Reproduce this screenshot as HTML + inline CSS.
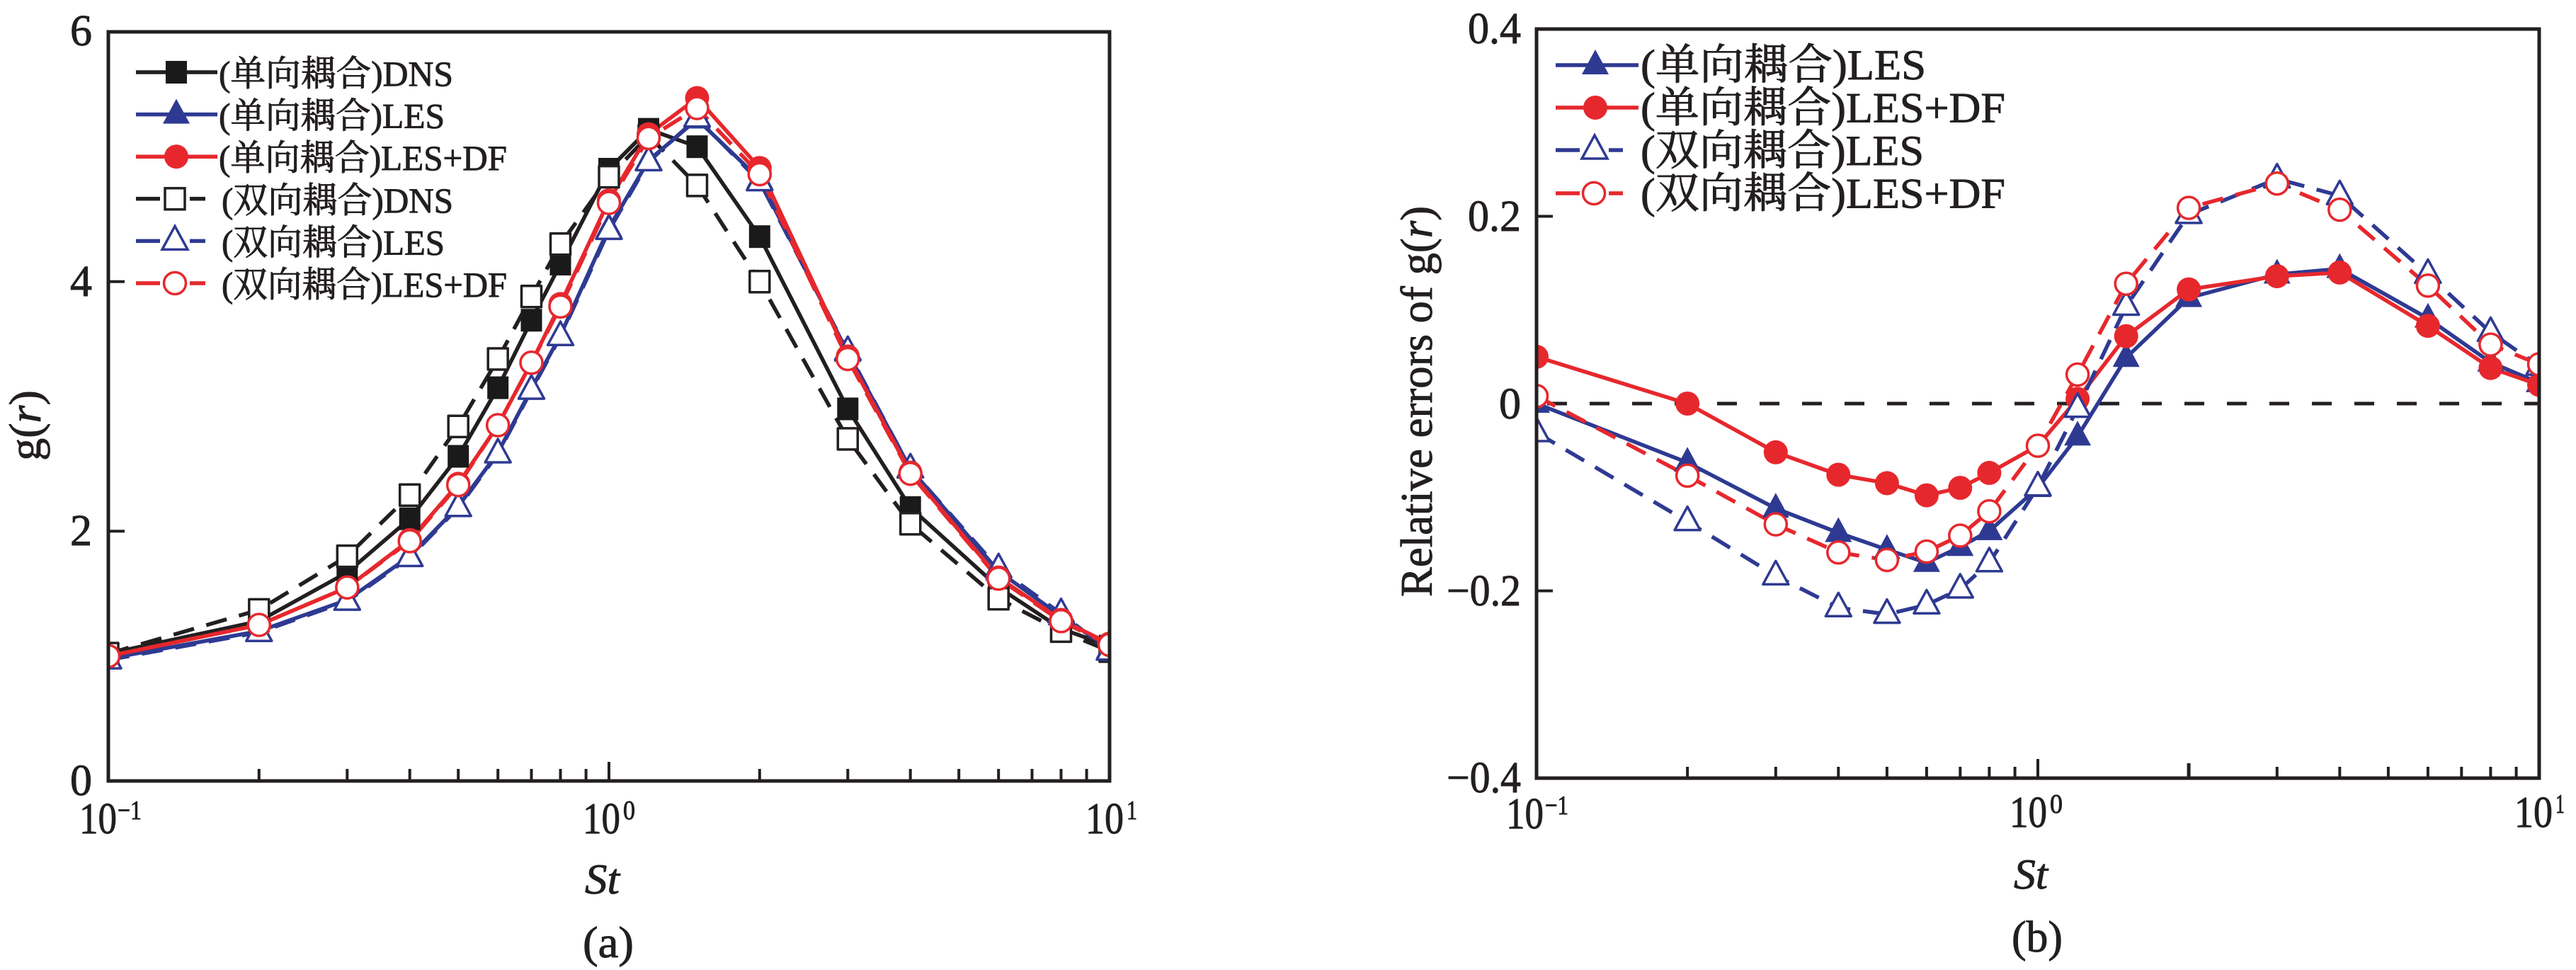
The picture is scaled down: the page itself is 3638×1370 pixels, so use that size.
<!DOCTYPE html>
<html>
<head>
<meta charset="utf-8">
<style>
html,body{margin:0;padding:0;background:#fff;}
svg{display:block;}
text{font-family:"Liberation Serif","Noto Serif CJK SC",serif;fill:#231f20;stroke:#231f20;stroke-width:0.9px;}
</style>
</head>
<body>
<svg width="3638" height="1370" viewBox="0 0 3638 1370" xmlns="http://www.w3.org/2000/svg">
<defs>
  <clipPath id="clipA"><rect x="153" y="45" width="1414" height="1058"/></clipPath>
  <clipPath id="clipB"><rect x="2170" y="41" width="1416" height="1058"/></clipPath>
  <rect id="sqF" x="-15" y="-16" width="30" height="32" fill="#1a1a1a"/>
  <rect id="sqH" x="-14" y="-15" width="28" height="30" fill="#fff" stroke="#231f20" stroke-width="3.5"/>
  <polygon id="triF" points="0,-22 19,13 -19,13" fill="#2e3a92"/>
  <polygon id="triH" points="0,-21 18,12 -18,12" fill="#fff" stroke="#2e3a92" stroke-width="3.5"/>
  <circle id="cirF" r="17" fill="#e6282d"/>
  <circle id="cirH" r="15.5" fill="#fff" stroke="#e6282d" stroke-width="3.5"/>
</defs>
<rect width="3638" height="1370" fill="#fff"/>

<!-- ================= PANEL A ================= -->
<g clip-path="url(#clipA)" fill="none" stroke-width="5.5" stroke-linejoin="round">
  <polyline stroke="#231f20" points="153,923.1 365.8,877.3 490.3,808.5 578.7,732.7 647.2,644.5 703.2,547.6 750.5,452.3 791.5,373.0 860,239.0 916,182.6 984.5,207.2 1072.8,334.2 1197.3,577.5 1285.7,716.8 1410.2,829.7 1498.5,887.9 1567,912.6"/>
  <polyline stroke="#231f20" stroke-dasharray="30 18" points="153,923.1 365.8,861.4 490.3,785.6 578.7,699.2 647.2,602.2 703.2,507.0 750.5,418.8 791.5,344.8 860,249.6 916,191.4 984.5,261.9 1072.8,397.7 1197.3,619.9 1285.7,739.8 1410.2,845.6 1498.5,891.4 1567,919.6"/>
  <polyline stroke="#2e3a92" points="153,930.2 365.8,891.4 490.3,847.3 578.7,785.6 647.2,715.1 703.2,639.3 750.5,549.3 791.5,473.5 860,321.9 916,226.6 984.5,168.5 1072.8,253.1 1197.3,498.2 1285.7,662.2 1410.2,806.8 1498.5,870.2 1567,916.1"/>
  <polyline stroke="#2e3a92" stroke-dasharray="30 18" points="153,932.0 365.8,893.2 490.3,849.1 578.7,787.4 647.2,716.8 703.2,641.0 750.5,551.1 791.5,475.3 860,325.4 916,228.4 984.5,166.7 1072.8,256.6 1197.3,496.4 1285.7,662.2 1410.2,803.2 1498.5,866.7 1567,919.6"/>
  <polyline stroke="#e6282d" points="153,926.7 365.8,882.6 490.3,829.7 578.7,762.7 647.2,683.3 703.2,600.5 750.5,512.3 791.5,429.4 860,283.1 916,189.6 984.5,138.5 1072.8,237.2 1197.3,503.5 1285.7,667.5 1410.2,815.6 1498.5,875.5 1567,909.0"/>
  <polyline stroke="#e6282d" stroke-dasharray="30 18" points="153,926.7 365.8,882.6 490.3,829.7 578.7,764.4 647.2,685.1 703.2,600.5 750.5,512.3 791.5,432.9 860,286.6 916,194.9 984.5,152.6 1072.8,246.0 1197.3,507.0 1285.7,669.2 1410.2,817.3 1498.5,877.3 1567,910.8"/>

  <use href="#sqF" x="153" y="923.1"/><use href="#sqF" x="365.8" y="877.3"/><use href="#sqF" x="490.3" y="808.5"/><use href="#sqF" x="578.7" y="732.7"/><use href="#sqF" x="647.2" y="644.5"/><use href="#sqF" x="703.2" y="547.6"/><use href="#sqF" x="750.5" y="452.3"/><use href="#sqF" x="791.5" y="373.0"/><use href="#sqF" x="860" y="239.0"/><use href="#sqF" x="916" y="182.6"/><use href="#sqF" x="984.5" y="207.2"/><use href="#sqF" x="1072.8" y="334.2"/><use href="#sqF" x="1197.3" y="577.5"/><use href="#sqF" x="1285.7" y="716.8"/><use href="#sqF" x="1410.2" y="829.7"/><use href="#sqF" x="1498.5" y="887.9"/><use href="#sqF" x="1567" y="912.6"/>
  <use href="#sqH" x="153" y="923.1"/><use href="#sqH" x="365.8" y="861.4"/><use href="#sqH" x="490.3" y="785.6"/><use href="#sqH" x="578.7" y="699.2"/><use href="#sqH" x="647.2" y="602.2"/><use href="#sqH" x="703.2" y="507.0"/><use href="#sqH" x="750.5" y="418.8"/><use href="#sqH" x="791.5" y="344.8"/><use href="#sqH" x="860" y="249.6"/><use href="#sqH" x="916" y="191.4"/><use href="#sqH" x="984.5" y="261.9"/><use href="#sqH" x="1072.8" y="397.7"/><use href="#sqH" x="1197.3" y="619.9"/><use href="#sqH" x="1285.7" y="739.8"/><use href="#sqH" x="1410.2" y="845.6"/><use href="#sqH" x="1498.5" y="891.4"/><use href="#sqH" x="1567" y="919.6"/>
  <use href="#triF" x="153" y="930.2"/><use href="#triF" x="365.8" y="891.4"/><use href="#triF" x="490.3" y="847.3"/><use href="#triF" x="578.7" y="785.6"/><use href="#triF" x="647.2" y="715.1"/><use href="#triF" x="703.2" y="639.3"/><use href="#triF" x="750.5" y="549.3"/><use href="#triF" x="791.5" y="473.5"/><use href="#triF" x="860" y="321.9"/><use href="#triF" x="916" y="226.6"/><use href="#triF" x="984.5" y="168.5"/><use href="#triF" x="1072.8" y="253.1"/><use href="#triF" x="1197.3" y="498.2"/><use href="#triF" x="1285.7" y="662.2"/><use href="#triF" x="1410.2" y="806.8"/><use href="#triF" x="1498.5" y="870.2"/><use href="#triF" x="1567" y="916.1"/>
  <use href="#triH" x="153" y="932.0"/><use href="#triH" x="365.8" y="893.2"/><use href="#triH" x="490.3" y="849.1"/><use href="#triH" x="578.7" y="787.4"/><use href="#triH" x="647.2" y="716.8"/><use href="#triH" x="703.2" y="641.0"/><use href="#triH" x="750.5" y="551.1"/><use href="#triH" x="791.5" y="475.3"/><use href="#triH" x="860" y="325.4"/><use href="#triH" x="916" y="228.4"/><use href="#triH" x="984.5" y="166.7"/><use href="#triH" x="1072.8" y="256.6"/><use href="#triH" x="1197.3" y="496.4"/><use href="#triH" x="1285.7" y="662.2"/><use href="#triH" x="1410.2" y="803.2"/><use href="#triH" x="1498.5" y="866.7"/><use href="#triH" x="1567" y="919.6"/>
  <use href="#cirF" x="153" y="926.7"/><use href="#cirF" x="365.8" y="882.6"/><use href="#cirF" x="490.3" y="829.7"/><use href="#cirF" x="578.7" y="762.7"/><use href="#cirF" x="647.2" y="683.3"/><use href="#cirF" x="703.2" y="600.5"/><use href="#cirF" x="750.5" y="512.3"/><use href="#cirF" x="791.5" y="429.4"/><use href="#cirF" x="860" y="283.1"/><use href="#cirF" x="916" y="189.6"/><use href="#cirF" x="984.5" y="138.5"/><use href="#cirF" x="1072.8" y="237.2"/><use href="#cirF" x="1197.3" y="503.5"/><use href="#cirF" x="1285.7" y="667.5"/><use href="#cirF" x="1410.2" y="815.6"/><use href="#cirF" x="1498.5" y="875.5"/><use href="#cirF" x="1567" y="909.0"/>
  <use href="#cirH" x="153" y="926.7"/><use href="#cirH" x="365.8" y="882.6"/><use href="#cirH" x="490.3" y="829.7"/><use href="#cirH" x="578.7" y="764.4"/><use href="#cirH" x="647.2" y="685.1"/><use href="#cirH" x="703.2" y="600.5"/><use href="#cirH" x="750.5" y="512.3"/><use href="#cirH" x="791.5" y="432.9"/><use href="#cirH" x="860" y="286.6"/><use href="#cirH" x="916" y="194.9"/><use href="#cirH" x="984.5" y="152.6"/><use href="#cirH" x="1072.8" y="246.0"/><use href="#cirH" x="1197.3" y="507.0"/><use href="#cirH" x="1285.7" y="669.2"/><use href="#cirH" x="1410.2" y="817.3"/><use href="#cirH" x="1498.5" y="877.3"/><use href="#cirH" x="1567" y="910.8"/>
</g>

<g stroke="#231f20" stroke-width="5" fill="none">
  <rect x="153" y="45" width="1414" height="1058"/>
</g>
<g stroke="#231f20" stroke-width="4">
  <line x1="860" y1="1103" x2="860" y2="1076"/>
  <line x1="365.8" y1="1103" x2="365.8" y2="1086"/>
  <line x1="490.3" y1="1103" x2="490.3" y2="1086"/>
  <line x1="578.7" y1="1103" x2="578.7" y2="1086"/>
  <line x1="647.2" y1="1103" x2="647.2" y2="1086"/>
  <line x1="703.2" y1="1103" x2="703.2" y2="1086"/>
  <line x1="750.5" y1="1103" x2="750.5" y2="1086"/>
  <line x1="791.5" y1="1103" x2="791.5" y2="1086"/>
  <line x1="827.6" y1="1103" x2="827.6" y2="1086"/>
  <line x1="1072.8" y1="1103" x2="1072.8" y2="1086"/>
  <line x1="1197.3" y1="1103" x2="1197.3" y2="1086"/>
  <line x1="1285.7" y1="1103" x2="1285.7" y2="1086"/>
  <line x1="1354.2" y1="1103" x2="1354.2" y2="1086"/>
  <line x1="1410.2" y1="1103" x2="1410.2" y2="1086"/>
  <line x1="1457.5" y1="1103" x2="1457.5" y2="1086"/>
  <line x1="1498.5" y1="1103" x2="1498.5" y2="1086"/>
  <line x1="1534.6" y1="1103" x2="1534.6" y2="1086"/>
  <line x1="153" y1="750.3" x2="176" y2="750.3"/>
  <line x1="153" y1="397.7" x2="176" y2="397.7"/>
</g>

<g font-size="62" text-anchor="end">
  <text x="130" y="1123">0</text>
  <text x="130" y="770">2</text>
  <text x="130" y="418">4</text>
  <text x="130" y="64">6</text>
</g>
<g font-size="62">
  <text x="112" y="1177" textLength="53" lengthAdjust="spacingAndGlyphs">10</text>
  <text x="166" y="1157" font-size="38" textLength="34" lengthAdjust="spacingAndGlyphs">−1</text>
  <text x="823" y="1177" textLength="53" lengthAdjust="spacingAndGlyphs">10</text>
  <text x="880" y="1157" font-size="38" textLength="17" lengthAdjust="spacingAndGlyphs">0</text>
  <text x="1533" y="1177" textLength="54" lengthAdjust="spacingAndGlyphs">10</text>
  <text x="1591" y="1157" font-size="38" textLength="15" lengthAdjust="spacingAndGlyphs">1</text>
</g>
<text x="826" y="1262" font-size="60" font-style="italic" textLength="49" lengthAdjust="spacingAndGlyphs">St</text>
<text x="823" y="1352" font-size="62" textLength="72" lengthAdjust="spacingAndGlyphs">(a)</text>
<text transform="translate(57,601) rotate(-90)" font-size="64" text-anchor="middle">g(<tspan font-style="italic">r</tspan>)</text>

<g stroke-width="5.5" fill="none">
  <line x1="192" y1="102" x2="307" y2="102" stroke="#231f20"/>
  <line x1="192" y1="161.6" x2="307" y2="161.6" stroke="#2e3a92"/>
  <line x1="192" y1="221.2" x2="307" y2="221.2" stroke="#e6282d"/>
  <line x1="192" y1="280.8" x2="226" y2="280.8" stroke="#231f20"/><line x1="268" y1="280.8" x2="290" y2="280.8" stroke="#231f20"/>
  <line x1="192" y1="340.4" x2="226" y2="340.4" stroke="#2e3a92"/><line x1="268" y1="340.4" x2="290" y2="340.4" stroke="#2e3a92"/>
  <line x1="192" y1="400" x2="226" y2="400" stroke="#e6282d"/><line x1="268" y1="400" x2="290" y2="400" stroke="#e6282d"/>
</g>
<use href="#sqF" x="249" y="102"/>
<use href="#triF" x="249" y="161.6"/>
<use href="#cirF" x="249" y="221.2"/>
<use href="#sqH" x="247" y="280.8"/>
<use href="#triH" x="247" y="340.4"/>
<use href="#cirH" x="247" y="400"/>
<g font-size="50">
  <text x="309" y="121" textLength="331" lengthAdjust="spacingAndGlyphs">(单向耦合)DNS</text>
  <text x="309" y="180.6" textLength="319" lengthAdjust="spacingAndGlyphs">(单向耦合)LES</text>
  <text x="309" y="240.2" textLength="407" lengthAdjust="spacingAndGlyphs">(单向耦合)LES+DF</text>
  <text x="313" y="299.8" textLength="327" lengthAdjust="spacingAndGlyphs">(双向耦合)DNS</text>
  <text x="313" y="359.4" textLength="315" lengthAdjust="spacingAndGlyphs">(双向耦合)LES</text>
  <text x="313" y="419" textLength="403" lengthAdjust="spacingAndGlyphs">(双向耦合)LES+DF</text>
</g>

<!-- ================= PANEL B ================= -->
<line x1="2170" y1="570" x2="3586" y2="570" stroke="#231f20" stroke-width="5" stroke-dasharray="28 32" stroke-dashoffset="-15"/>
<g clip-path="url(#clipB)" fill="none" stroke-width="5.5" stroke-linejoin="round">
  <polyline stroke="#2e3a92" points="2170,570 2383.1,653.3 2507.8,718.1 2596.3,752.5 2664.9,776.3 2720.9,794.8 2768.3,772.3 2809.4,749.9 2878,689.0 2934.1,616.3 3002.7,505.2 3091.1,420.6 3215.8,387.5 3304.3,379.6 3428.9,449.7 3517.4,511.8 3586,540.9"/>
  <polyline stroke="#e6282d" points="2170,503.9 2383.1,570 2507.8,638.8 2596.3,670.5 2664.9,682.4 2720.9,699.6 2768.3,689.0 2809.4,667.9 2878,629.5 2934.1,563.4 3002.7,474.8 3091.1,408.7 3215.8,390.1 3304.3,384.9 3428.9,460.2 3517.4,519.7 3586,543.5"/>
  <polyline stroke="#2e3a92" stroke-dasharray="30 18" points="2170,611.0 2383.1,736.6 2507.8,813.3 2596.3,858.3 2664.9,867.6 2720.9,854.3 2768.3,831.9 2809.4,794.8 2878,687.7 2934.1,576.6 3002.7,432.5 3091.1,302.9 3215.8,252.6 3304.3,276.4 3428.9,387.5 3517.4,469.5 3586,517.1"/>
  <polyline stroke="#e6282d" stroke-dasharray="30 18" points="2170,559.4 2383.1,671.8 2507.8,740.6 2596.3,780.3 2664.9,790.9 2720.9,779.0 2768.3,756.5 2809.4,722.1 2878,629.5 2934.1,529.0 3002.7,400.7 3091.1,293.6 3215.8,259.2 3304.3,296.2 3428.9,403.4 3517.4,486.7 3586,514.5"/>

  <use href="#triF" x="2170" y="570"/><use href="#triF" x="2383.1" y="653.3"/><use href="#triF" x="2507.8" y="718.1"/><use href="#triF" x="2596.3" y="752.5"/><use href="#triF" x="2664.9" y="776.3"/><use href="#triF" x="2720.9" y="794.8"/><use href="#triF" x="2768.3" y="772.3"/><use href="#triF" x="2809.4" y="749.9"/><use href="#triF" x="2878" y="689.0"/><use href="#triF" x="2934.1" y="616.3"/><use href="#triF" x="3002.7" y="505.2"/><use href="#triF" x="3091.1" y="420.6"/><use href="#triF" x="3215.8" y="387.5"/><use href="#triF" x="3304.3" y="379.6"/><use href="#triF" x="3428.9" y="449.7"/><use href="#triF" x="3517.4" y="511.8"/><use href="#triF" x="3586" y="540.9"/>
  <use href="#cirF" x="2170" y="503.9"/><use href="#cirF" x="2383.1" y="570"/><use href="#cirF" x="2507.8" y="638.8"/><use href="#cirF" x="2596.3" y="670.5"/><use href="#cirF" x="2664.9" y="682.4"/><use href="#cirF" x="2720.9" y="699.6"/><use href="#cirF" x="2768.3" y="689.0"/><use href="#cirF" x="2809.4" y="667.9"/><use href="#cirF" x="2878" y="629.5"/><use href="#cirF" x="2934.1" y="563.4"/><use href="#cirF" x="3002.7" y="474.8"/><use href="#cirF" x="3091.1" y="408.7"/><use href="#cirF" x="3215.8" y="390.1"/><use href="#cirF" x="3304.3" y="384.9"/><use href="#cirF" x="3428.9" y="460.2"/><use href="#cirF" x="3517.4" y="519.7"/><use href="#cirF" x="3586" y="543.5"/>
  <use href="#triH" x="2170" y="611.0"/><use href="#triH" x="2383.1" y="736.6"/><use href="#triH" x="2507.8" y="813.3"/><use href="#triH" x="2596.3" y="858.3"/><use href="#triH" x="2664.9" y="867.6"/><use href="#triH" x="2720.9" y="854.3"/><use href="#triH" x="2768.3" y="831.9"/><use href="#triH" x="2809.4" y="794.8"/><use href="#triH" x="2878" y="687.7"/><use href="#triH" x="2934.1" y="576.6"/><use href="#triH" x="3002.7" y="432.5"/><use href="#triH" x="3091.1" y="302.9"/><use href="#triH" x="3215.8" y="252.6"/><use href="#triH" x="3304.3" y="276.4"/><use href="#triH" x="3428.9" y="387.5"/><use href="#triH" x="3517.4" y="469.5"/><use href="#triH" x="3586" y="517.1"/>
  <use href="#cirH" x="2170" y="559.4"/><use href="#cirH" x="2383.1" y="671.8"/><use href="#cirH" x="2507.8" y="740.6"/><use href="#cirH" x="2596.3" y="780.3"/><use href="#cirH" x="2664.9" y="790.9"/><use href="#cirH" x="2720.9" y="779.0"/><use href="#cirH" x="2768.3" y="756.5"/><use href="#cirH" x="2809.4" y="722.1"/><use href="#cirH" x="2878" y="629.5"/><use href="#cirH" x="2934.1" y="529.0"/><use href="#cirH" x="3002.7" y="400.7"/><use href="#cirH" x="3091.1" y="293.6"/><use href="#cirH" x="3215.8" y="259.2"/><use href="#cirH" x="3304.3" y="296.2"/><use href="#cirH" x="3428.9" y="403.4"/><use href="#cirH" x="3517.4" y="486.7"/><use href="#cirH" x="3586" y="514.5"/>
</g>

<g stroke="#231f20" stroke-width="5" fill="none">
  <rect x="2170" y="41" width="1416" height="1058"/>
</g>
<g stroke="#231f20" stroke-width="4">
  <line x1="2878" y1="1099" x2="2878" y2="1072"/>
  <line x1="3091.1" y1="1099" x2="3091.1" y2="1078" stroke-width="5"/>
  <line x1="2383.1" y1="1099" x2="2383.1" y2="1083"/>
  <line x1="2507.8" y1="1099" x2="2507.8" y2="1083"/>
  <line x1="2596.3" y1="1099" x2="2596.3" y2="1083"/>
  <line x1="2664.9" y1="1099" x2="2664.9" y2="1083"/>
  <line x1="2720.9" y1="1099" x2="2720.9" y2="1083"/>
  <line x1="2768.3" y1="1099" x2="2768.3" y2="1083"/>
  <line x1="2809.4" y1="1099" x2="2809.4" y2="1083"/>
  <line x1="2845.6" y1="1099" x2="2845.6" y2="1083"/>
  <line x1="3215.8" y1="1099" x2="3215.8" y2="1083"/>
  <line x1="3304.3" y1="1099" x2="3304.3" y2="1083"/>
  <line x1="3372.9" y1="1099" x2="3372.9" y2="1083"/>
  <line x1="3428.9" y1="1099" x2="3428.9" y2="1083"/>
  <line x1="3476.3" y1="1099" x2="3476.3" y2="1083"/>
  <line x1="3517.4" y1="1099" x2="3517.4" y2="1083"/>
  <line x1="3553.6" y1="1099" x2="3553.6" y2="1083"/>
  <line x1="2170" y1="305.5" x2="2193" y2="305.5"/>
  <line x1="2170" y1="834.5" x2="2193" y2="834.5"/>
</g>

<g font-size="62" text-anchor="end">
  <text x="2148" y="61" textLength="75" lengthAdjust="spacingAndGlyphs">0.4</text>
  <text x="2148" y="326" textLength="75" lengthAdjust="spacingAndGlyphs">0.2</text>
  <text x="2148" y="591">0</text>
  <text x="2148" y="855" textLength="105" lengthAdjust="spacingAndGlyphs">−0.2</text>
  <text x="2148" y="1119" textLength="105" lengthAdjust="spacingAndGlyphs">−0.4</text>
</g>
<g font-size="62">
  <text x="2127" y="1170" textLength="53" lengthAdjust="spacingAndGlyphs">10</text>
  <text x="2182" y="1150" font-size="38" textLength="33" lengthAdjust="spacingAndGlyphs">−1</text>
  <text x="2838" y="1168" textLength="53" lengthAdjust="spacingAndGlyphs">10</text>
  <text x="2895" y="1148" font-size="38" textLength="18" lengthAdjust="spacingAndGlyphs">0</text>
  <text x="3551" y="1168" textLength="54" lengthAdjust="spacingAndGlyphs">10</text>
  <text x="3609" y="1148" font-size="38" textLength="13" lengthAdjust="spacingAndGlyphs">1</text>
</g>
<text x="2844" y="1255" font-size="60" font-style="italic" textLength="48" lengthAdjust="spacingAndGlyphs">St</text>
<text x="2841" y="1344" font-size="62" textLength="72" lengthAdjust="spacingAndGlyphs">(b)</text>
<text transform="translate(2022,567) rotate(-90)" font-size="64" text-anchor="middle" textLength="552" lengthAdjust="spacingAndGlyphs">Relative errors of g(<tspan font-style="italic">r</tspan>)</text>

<g stroke-width="5.5" fill="none">
  <line x1="2197" y1="92" x2="2314" y2="92" stroke="#2e3a92"/>
  <line x1="2197" y1="152" x2="2314" y2="152" stroke="#e6282d"/>
  <line x1="2197" y1="212" x2="2231" y2="212" stroke="#2e3a92"/><line x1="2272" y1="212" x2="2292" y2="212" stroke="#2e3a92"/>
  <line x1="2197" y1="273" x2="2231" y2="273" stroke="#e6282d"/><line x1="2272" y1="273" x2="2292" y2="273" stroke="#e6282d"/>
</g>
<use href="#triF" x="2253" y="92"/>
<use href="#cirF" x="2253" y="152"/>
<use href="#triH" x="2252" y="212"/>
<use href="#cirH" x="2251" y="273"/>
<g font-size="60">
  <text x="2317" y="112" textLength="403" lengthAdjust="spacingAndGlyphs">(单向耦合)LES</text>
  <text x="2317" y="172.5" textLength="515" lengthAdjust="spacingAndGlyphs">(单向耦合)LES+DF</text>
  <text x="2317" y="233" textLength="400" lengthAdjust="spacingAndGlyphs">(双向耦合)LES</text>
  <text x="2317" y="293.5" textLength="515" lengthAdjust="spacingAndGlyphs">(双向耦合)LES+DF</text>
</g>
</svg>
</body>
</html>
